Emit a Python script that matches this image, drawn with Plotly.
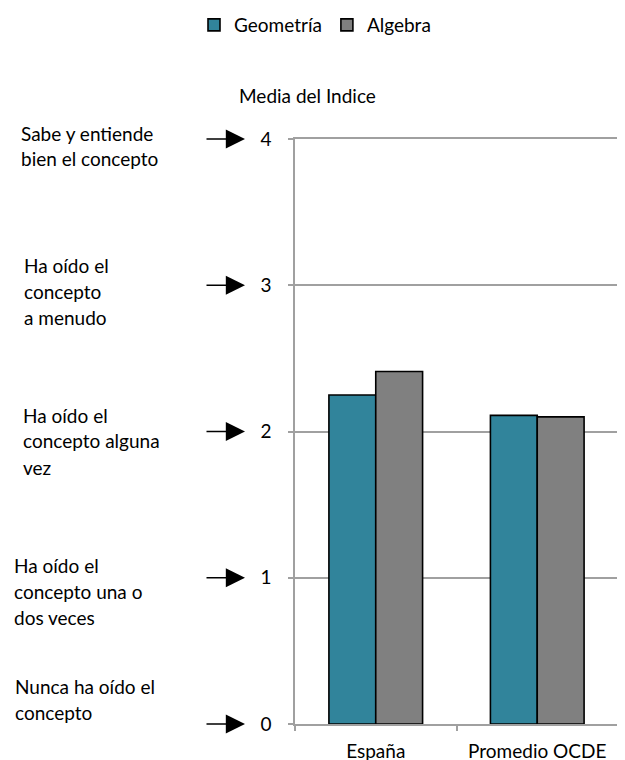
import plotly.graph_objects as go

categories = ["España", "Promedio OCDE"]
geometria = [2.25, 2.11]
algebra = [2.41, 2.10]
series_names = ["Geometría", "Algebra"]
level_values = [4, 3, 2, 1, 0]
level_labels = [
    "Sabe y entiende<br>bien el concepto",
    "Ha oído el<br>concepto<br>a menudo",
    "Ha oído el<br>concepto alguna<br>vez",
    "Ha oído el<br>concepto una o<br>dos veces",
    "Nunca ha oído el<br>concepto",
]
y_title = "Media del Indice"

W, H = 625, 760
OFF = 8  # page body margin
SX0, SX1, SY0, SY1 = 295, 618, 139, 724
L = SX0 - OFF
T = SY0 - OFF
R = W - (SX1 - OFF)
B = H - (SY1 - OFF)
PW = SX1 - SX0
PH = SY1 - SY0

def px_x(px):
    return (px - SX0) / PW

def px_y(py):
    return (SY1 - py) / PH

FONT = "Lato"
FS = 19
teal = "#31849B"
grey = "#808080"
axis_grey = "#A0A0A0"

fig = go.Figure()
fig.add_trace(go.Bar(x=categories, y=geometria, name=series_names[0],
                     marker=dict(color=teal, line=dict(color="black", width=1.6))))
fig.add_trace(go.Bar(x=categories, y=algebra, name=series_names[1],
                     marker=dict(color=grey, line=dict(color="black", width=1.6))))

annotations = []
for v in level_values:
    annotations.append(dict(x=px_x(245), xref="paper", y=v, yref="y",
                            ax=-40, ay=0,
                            text="", showarrow=True, arrowhead=2,
                            arrowsize=2.4, arrowwidth=1.6, arrowcolor="black"))

label_pos = [
    (19, [133, 158]),
    (22, [265, 291, 317]),
    (21, [415, 441, 467]),
    (12, [565, 591, 617]),
    (13, [686, 712]),
]
for lbl, (lx, ys) in zip(level_labels, label_pos):
    for line, yy in zip(lbl.split("<br>"), ys):
        annotations.append(dict(x=px_x(lx), xref="paper", y=px_y(yy), yref="paper",
                                text=line, showarrow=False, xanchor="left", yanchor="middle",
                                font=dict(family=FONT, size=FS, color="black")))

annotations.append(dict(x=px_x(237), xref="paper", y=px_y(95), yref="paper",
                        text=y_title, showarrow=False, xanchor="left", yanchor="middle",
                        font=dict(family=FONT, size=FS, color="black")))

fig.update_layout(
    width=W, height=H,
    margin=dict(l=L, r=R, t=T, b=B, autoexpand=False),
    paper_bgcolor="white", plot_bgcolor="white",
    barmode="group", bargap=0.42, bargroupgap=0,
    font=dict(family=FONT, size=FS, color="black"),
    showlegend=True,
    legend=dict(orientation="h", x=px_x(315), xanchor="center",
                y=px_y(25), yanchor="middle", font=dict(size=FS),
                itemwidth=30),
    annotations=annotations,
    xaxis=dict(showline=True, linecolor=axis_grey, linewidth=1.5, mirror=True,
               ticks="outside", ticklen=5, tickcolor=axis_grey, tickwidth=1.5,
               tickson="boundaries", showgrid=False, automargin=False,
               ticklabelstandoff=9,
               tickfont=dict(family=FONT, size=FS, color="black")),
    yaxis=dict(range=[0, 4], dtick=1, showline=True, linecolor=axis_grey, linewidth=1.5,
               mirror=True, ticks="outside", ticklen=5, tickcolor=axis_grey, tickwidth=1.5,
               showgrid=True, gridcolor=axis_grey, gridwidth=1.5, zeroline=False,
               automargin=False, ticklabelstandoff=13,
               tickfont=dict(family=FONT, size=FS, color="black")),
)

fig.write_html("out.html")
